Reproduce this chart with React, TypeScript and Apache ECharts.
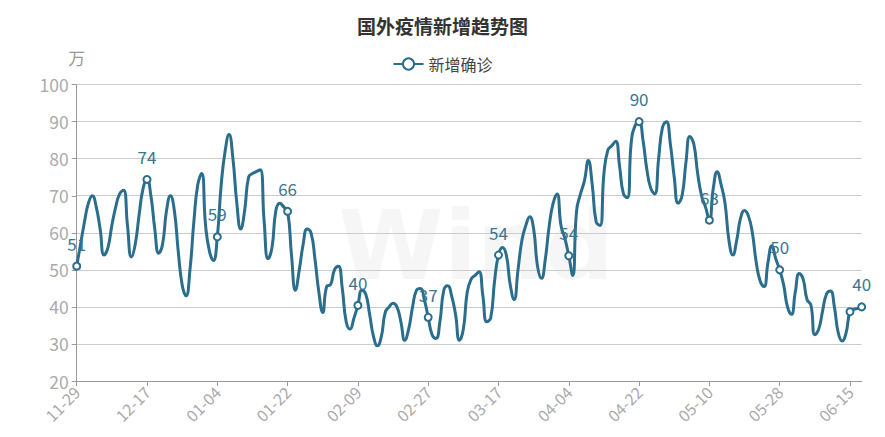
import React, { useEffect, useRef } from "react";
import * as echarts from "echarts";

const chartTitle = "国外疫情新增趋势图";
const seriesName = "新增确诊";
const unitName = "万";
const startDate = "2020-11-29";

// daily new confirmed cases (10k), 11-29 .. 06-18
const newCases = [
  51, 57, 63, 68, 70, 67, 61, 54, 56, 62,
  67, 70.5, 71.5, 62, 53.5, 57, 65, 72, 74.4, 70,
  61, 54.5, 57, 66, 70, 66, 55, 46, 43, 50,
  63, 73, 76, 62, 55, 52.5, 58.9, 73, 82, 86.5,
  80, 68, 61, 66, 75, 76, 76.5, 77, 63, 53,
  56, 66, 68, 67, 65.8, 54, 44.5, 50, 57, 61,
  60, 53, 44, 38.5, 45.5, 46, 50, 51, 45, 36,
  34, 37, 40.4, 44.5, 43.5, 38, 32, 29.5, 32, 38.5,
  40, 41, 40, 36, 31, 34, 40, 44.5, 45, 42,
  37.2, 32.5, 31.5, 36, 44.5, 45.7, 43, 38, 31, 34,
  44, 47.5, 48.5, 49.5, 43, 36, 37, 47, 54, 56,
  54, 46, 42, 50, 58, 62, 64.3, 61, 51, 47.7,
  53, 62, 68, 70.5, 62, 58.5, 53.8, 48.5, 66, 70.5,
  74, 79.5, 73, 63, 62, 76, 82.3, 83.5, 84.7, 78,
  70.5, 69.5, 84.5, 89, 90, 85, 77, 72, 70.5, 80,
  88.5, 90, 84, 75, 68, 70, 79, 86, 84, 76,
  70, 67, 63.4, 72, 76.5, 73, 68, 58, 54, 58,
  64, 66, 64.5, 60, 52, 47, 45.5, 52, 56.5, 53,
  50, 46, 40, 38, 44, 49, 47.5, 42, 40.5, 32.5,
  34, 39, 43.5, 44.3, 40, 33, 30.8, 33, 38.7, 39.3,
  39.6, 40,
];

const labelStep = 18;
const yTicks = { min: 20, max: 100, interval: 10 };

function buildDates(start: string, n: number): string[] {
  const out: string[] = [];
  const d = new Date(start + "T00:00:00Z");
  for (let i = 0; i < n; i++) {
    const m = String(d.getUTCMonth() + 1).padStart(2, "0");
    const day = String(d.getUTCDate()).padStart(2, "0");
    out.push(`${m}-${day}`);
    d.setUTCDate(d.getUTCDate() + 1);
  }
  return out;
}

const dates = buildDates(startDate, newCases.length);

export default function App() {
  const ref = useRef<HTMLDivElement>(null);
  useEffect(() => {
    if (!ref.current) return;
    const chart = echarts.init(ref.current, undefined, { renderer: "svg" });
    const lastIdx = newCases.length - 1;
    const lineColor = "#2a6d8c";
    const font = "'Noto Sans CJK SC', 'Noto Sans', sans-serif";
    const seriesData = newCases.map((v, i) => {
      const marked = i % labelStep === 0 || i === lastIdx;
      const showLabel = marked && !(i % labelStep === 0 && lastIdx - i < 6);
      if (!marked) return { value: v, symbol: "none" };
      return {
        value: v,
        symbol: "emptyCircle",
        label: { show: showLabel },
      };
    });
    chart.setOption({
      animation: false,
      backgroundColor: "#ffffff",
      textStyle: { fontFamily: font },
      title: {
        text: chartTitle,
        left: "center",
        top: 11,
        textStyle: { fontSize: 19, fontWeight: "bold", color: "#333", fontFamily: font },
      },
      legend: {
        top: 51,
        left: "center",
        itemWidth: 30,
        itemHeight: 14,
        itemGap: 10,
        textStyle: { fontSize: 16, color: "#444", fontFamily: font },
        data: [seriesName],
      },
      graphic: [
        {
          type: "text",
          left: 338,
          top: 198,
          z: -10,
          silent: true,
          style: {
            text: "Wind",
            fontSize: 96,
            fontWeight: "bold",
            fontFamily: "'DejaVu Sans', sans-serif",
            fill: "rgba(0,0,0,0.035)",
          },
        },
      ],
      grid: { left: 76.7, right: 23.3, top: 84.6, bottom: 56, containLabel: false },
      xAxis: {
        type: "category",
        data: dates,
        boundaryGap: false,
        axisLine: { lineStyle: { color: "#999" } },
        axisTick: { show: true, interval: labelStep - 1, length: 5, lineStyle: { color: "#999" } },
        axisLabel: {
          interval: labelStep - 1,
          rotate: 45,
          color: "#aaa",
          fontSize: 16,
          margin: 8,
          fontFamily: font,
        },
        splitLine: { show: false },
      },
      yAxis: {
        type: "value",
        min: yTicks.min,
        max: yTicks.max,
        interval: yTicks.interval,
        name: unitName,
        nameGap: 19,
        nameTextStyle: { color: "#999", fontSize: 17, fontFamily: font, align: "center" },
        axisLine: { show: true, lineStyle: { color: "#999" } },
        axisTick: { show: true, length: 5, lineStyle: { color: "#999" } },
        axisLabel: { color: "#aaa", fontSize: 17.5, margin: 8, fontFamily: font },
        splitLine: { lineStyle: { color: "#ccc", width: 1 } },
      },
      series: [
        {
          name: seriesName,
          type: "line",
          data: seriesData,
          smooth: 0.5,
          showSymbol: true,
          showAllSymbol: true,
          symbolSize: 7,
          lineStyle: { color: lineColor, width: 3 },
          itemStyle: { color: lineColor, borderColor: lineColor, borderWidth: 1.5 },
          label: {
            show: false,
            position: "top",
            distance: 10,
            color: "#3b7590",
            fontSize: 17,
            fontFamily: font,
            formatter: (p: any) => String(Math.round(p.value)),
          },
          emphasis: { disabled: true },
        },
      ],
    });
    return () => chart.dispose();
  }, []);
  return (
    <div
      ref={ref}
      style={{ position: "fixed", left: 0, top: 0, width: 885, height: 437 }}
    />
  );
}
